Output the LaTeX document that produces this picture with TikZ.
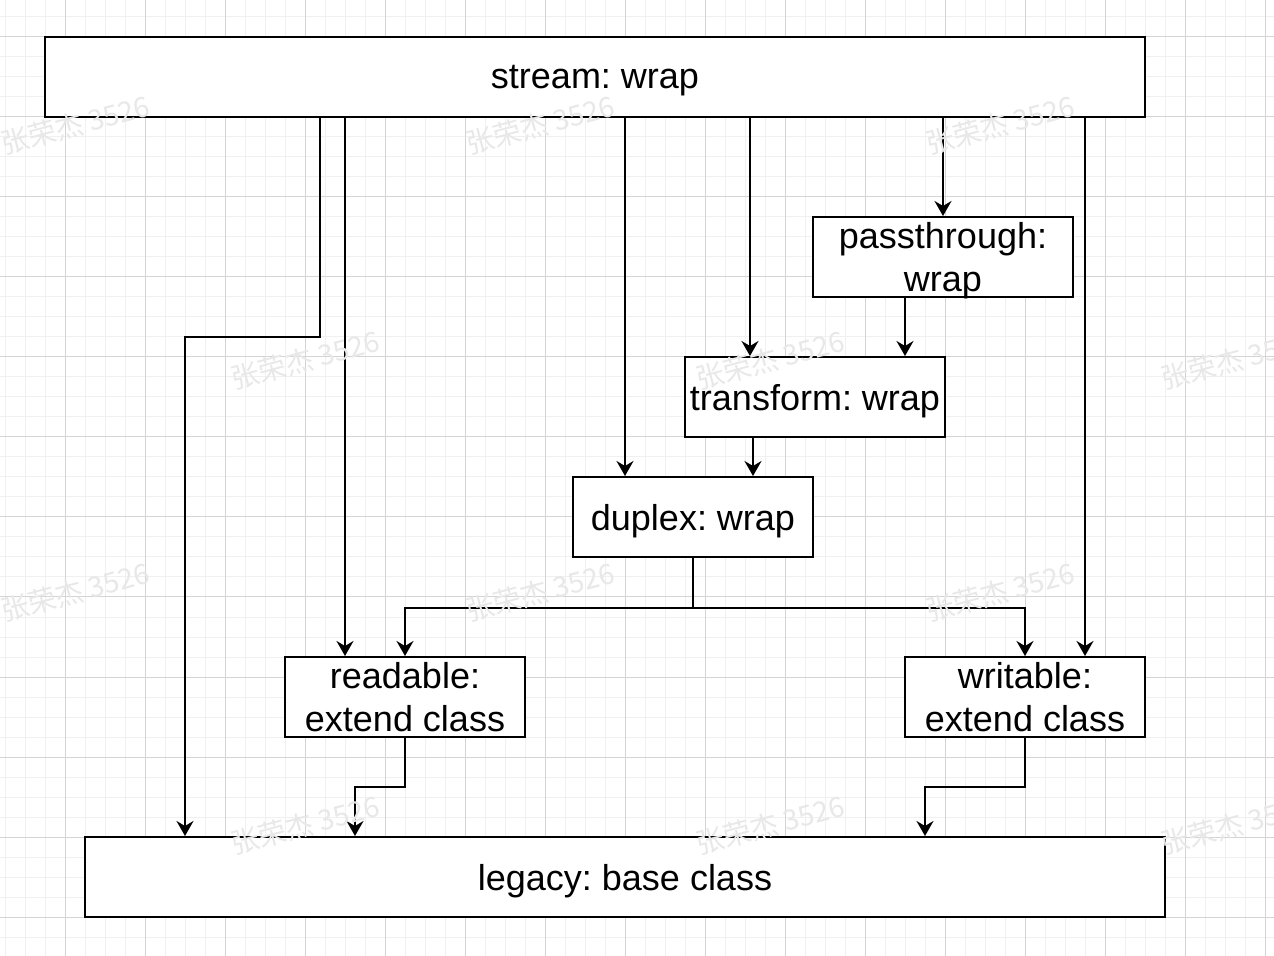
\documentclass[tikz,border=0pt]{standalone}
\usepackage{fontspec}
\setmainfont{Liberation Sans}
\newfontfamily\cjk{Noto Sans CJK SC}
\usetikzlibrary{arrows.meta}
\frenchspacing

\begin{document}
\begin{tikzpicture}[x=0.5pt,y=-0.5pt,line width=1pt,
  box/.style={draw,fill=white,align=center,inner sep=0pt,minimum height=40pt,
    text depth=0pt,font=\fontsize{18}{21.5}\selectfont},
  arr/.style={-{Stealth[length=7.5pt,width=8.5pt,inset=2.5pt]}},
  wmark/.style={text=black!9,rotate=15,font=\cjk\fontsize{14}{14}\selectfont}]
  \useasboundingbox (0,0) rectangle (1274,956);
  \fill[white] (0,0) rectangle (1274,956);
  % grid
  \foreach \x in {5,25,...,1265} \draw[line width=0.5pt,black!6] (\x,0) -- (\x,956);
  \foreach \y in {17,37,...,956} \draw[line width=0.5pt,black!6] (0,\y) -- (1274,\y);
  \foreach \x in {65,145,...,1265} \draw[line width=0.5pt,black!17] (\x,0) -- (\x,956);
  \foreach \y in {37,117,...,956} \draw[line width=0.5pt,black!17] (0,\y) -- (1274,\y);

  \node(stream)   [box,minimum width=550pt] at (595,77)  {stream: wrap};
  \node(pass)     [box,minimum width=130pt] at (943,257) {passthrough:\\wrap};
  \node(trans)    [box,minimum width=130pt] at (815,397) {transform: wrap};
  \node(duplex)   [box,minimum width=120pt] at (693,517) {duplex: wrap};
  \node(readable) [box,minimum width=120pt] at (405,697) {readable:\\extend class};
  \node(writable) [box,minimum width=120pt] at (1025,697){writable:\\extend class};
  \node(legacy)   [box,minimum width=540pt] at (625,877) {legacy: base class};

  \coordinate (bendL) at (185,337);
  \coordinate (bendR) at (355,787);
  \coordinate (bendW) at (925,787);

  \draw[arr] (stream.south -| 320,0)  |- (bendL) -- (legacy.north -| bendL);
  \draw[arr] (stream.south -| 345,0)  -- (readable.north -| 345,0);
  \draw[arr] (stream.south -| 625,0)  -- (duplex.north -| 625,0);
  \draw[arr] (stream.south -| 750,0)  -- (trans.north -| 750,0);
  \draw[arr] (stream.south -| pass.north) -- (pass.north);
  \draw[arr] (stream.south -| 1085,0) -- (writable.north -| 1085,0);
  \draw[arr] (pass.south -| 905,0)    -- (trans.north -| 905,0);
  \draw[arr] (trans.south -| 753,0)   -- (duplex.north -| 753,0);
  \draw[arr] (duplex.south) -- ++(0,50) -| (readable.north);
  \draw[arr] (duplex.south) -- ++(0,50) -| (writable.north);
  \draw[arr] (readable.south) |- (bendR) -- (legacy.north -| bendR);
  \draw[arr] (writable.south) |- (bendW) -- (legacy.north -| bendW);

  % watermark
  \foreach \y in {125,592} \foreach \x in {75,540,1000}
    \node[wmark] at (\x,\y) {张荣杰 3526};
  \foreach \y in {360,825} \foreach \x in {305,770,1235}
    \node[wmark] at (\x,\y) {张荣杰 3526};
\end{tikzpicture}
\end{document}
